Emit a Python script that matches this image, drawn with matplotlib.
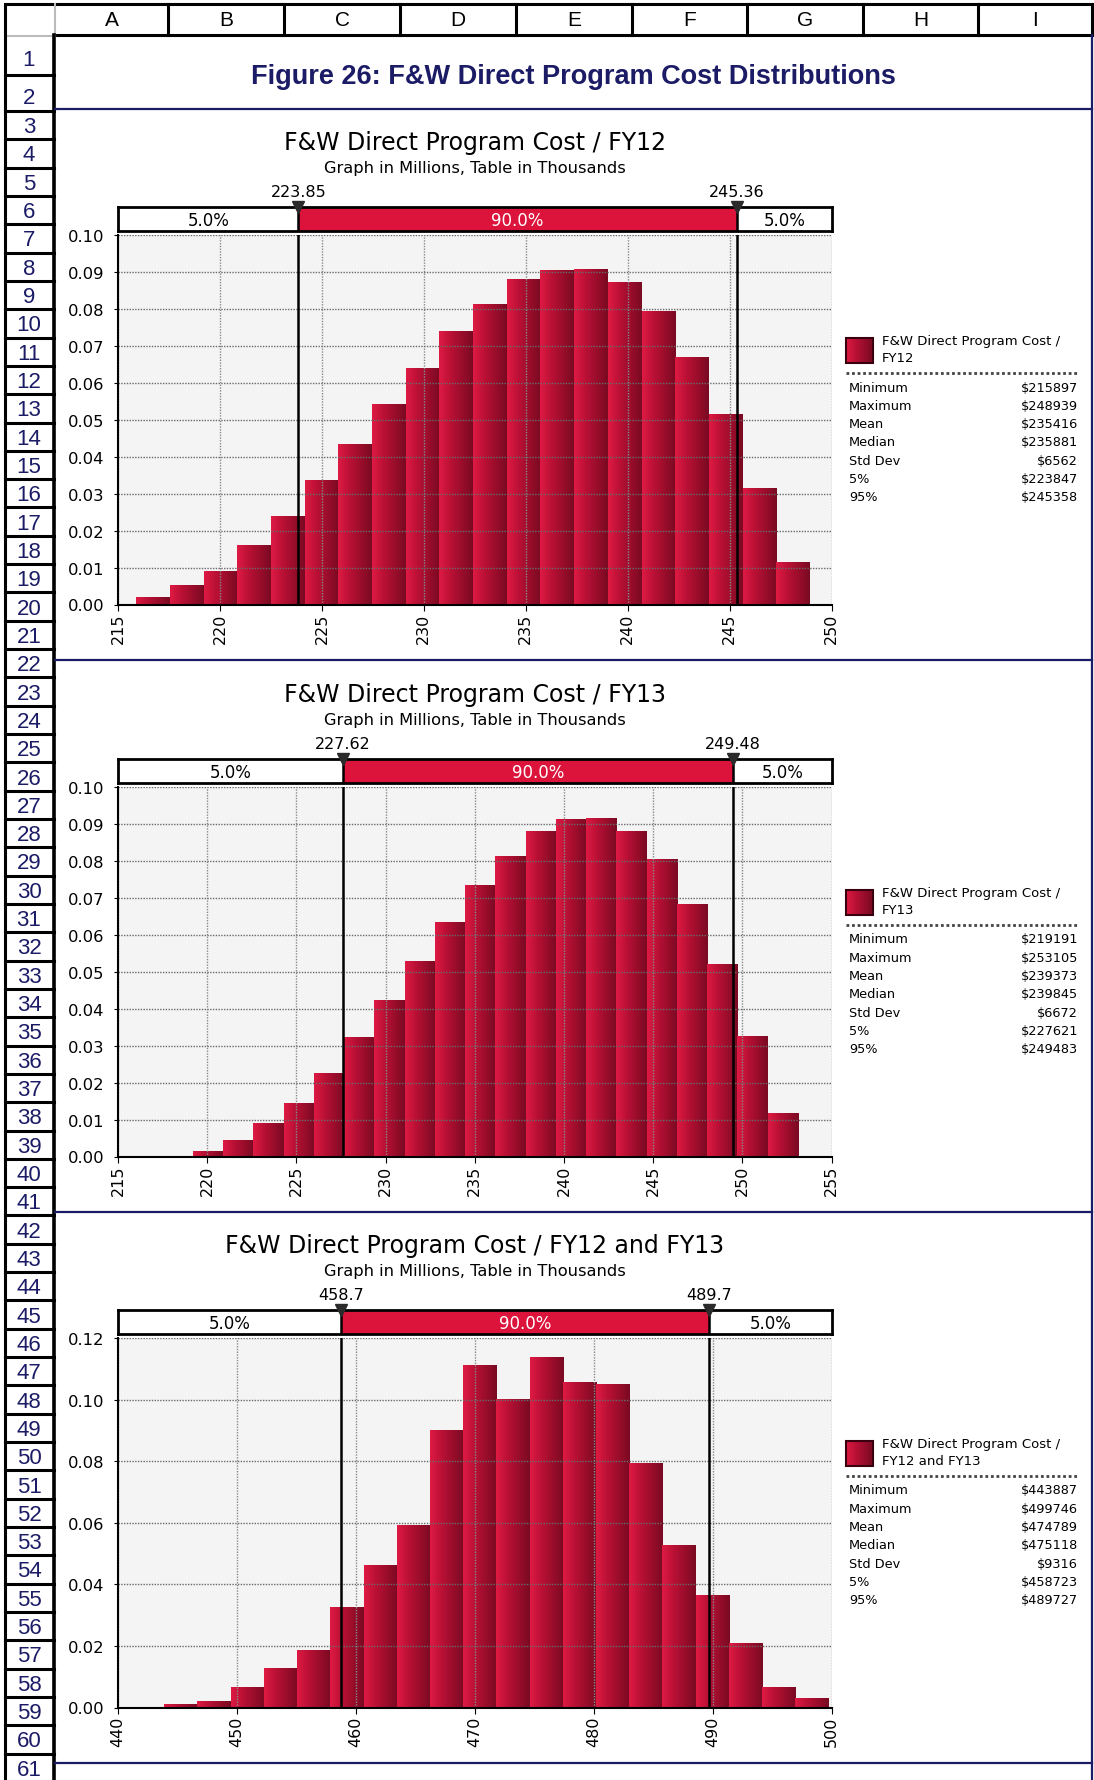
import numpy as np
import matplotlib
matplotlib.use('Agg')
import matplotlib.pyplot as plt
from matplotlib import transforms
from matplotlib.colors import LinearSegmentedColormap
from matplotlib.patches import Rectangle

# { -- data
fig_title = 'Figure 26: F&W Direct Program Cost Distributions'
subtitle = 'Graph in Millions, Table in Thousands'
chart_titles = ['F&W Direct Program Cost / FY12',
                'F&W Direct Program Cost / FY13',
                'F&W Direct Program Cost / FY12 and FY13']
legend_names = [['F&W Direct Program Cost /', 'FY12'],
                ['F&W Direct Program Cost /', 'FY13'],
                ['F&W Direct Program Cost /', 'FY12 and FY13']]

fy12_probs = [0.0020, 0.0052, 0.0091, 0.0162, 0.0240, 0.0338, 0.0435, 0.0542, 0.0640, 0.0741,
              0.0814, 0.0881, 0.0905, 0.0908, 0.0873, 0.0794, 0.0670, 0.0516, 0.0316, 0.0115]
fy13_probs = [0.0015, 0.0046, 0.0091, 0.0145, 0.0226, 0.0323, 0.0423, 0.0529, 0.0634, 0.0735,
              0.0814, 0.0880, 0.0914, 0.0917, 0.0880, 0.0806, 0.0684, 0.0521, 0.0326, 0.0118]
both_probs = [0.0012, 0.0022, 0.0068, 0.0127, 0.0188, 0.0328, 0.0462, 0.0592, 0.0900, 0.1112,
              0.1002, 0.1138, 0.1057, 0.1050, 0.0793, 0.0527, 0.0364, 0.0208, 0.0068, 0.0032]

stat_names = ['Minimum', 'Maximum', 'Mean', 'Median', 'Std Dev', '5%', '95%']
fy12_stats = [215897, 248939, 235416, 235881, 6562, 223847, 245358]
fy13_stats = [219191, 253105, 239373, 239845, 6672, 227621, 249483]
both_stats = [443887, 499746, 474789, 475118, 9316, 458723, 489727]

marker_labels = [['223.85', '245.36'], ['227.62', '249.48'], ['458.7', '489.7']]
band_labels = ['5.0%', '90.0%', '5.0%']

x_ticks = [(215, 250, 5), (215, 255, 5), (440, 500, 10)]
y_ticks = [(0.10, 0.01), (0.10, 0.01), (0.12, 0.02)]

columns = ['A', 'B', 'C', 'D', 'E', 'F', 'G', 'H', 'I']
n_rows = 61
#  -- }

W, H = 1094, 1781
navy = '#1b1b66'
band_red = '#dc143c'
bar_cmap = LinearSegmentedColormap.from_list(
    'bars', [(0, '#de1a43'), (0.35, '#ba1035'), (1, '#7a0a22')])
grad = np.linspace(0, 1, 64).reshape(1, -1)

plt.rcParams['font.family'] = ['DejaVu Sans']

fig = plt.figure(figsize=(W / 100, H / 100), dpi=100)


def px_rect(x0, y0, x1, y1):
    return [x0 / W, 1 - y1 / H, (x1 - x0) / W, (y1 - y0) / H]


# overlay in pixel coordinates for the sheet frame and text blocks
ov = fig.add_axes([0, 0, 1, 1])
ov.set_facecolor('white')

# ---- spreadsheet frame
col_x = [55, 168, 284, 400, 516, 632, 747, 863, 978, 1092]
row_y = [36, 76, 112] + [112 + 28.32 * k for k in range(1, n_rows)]
hdr_top, hdr_bot = 5, 36
ov.plot([5, 1092], [hdr_top, hdr_top], color='k', lw=2.2, solid_capstyle='butt')
ov.plot([55, 1092], [hdr_bot, hdr_bot], color='k', lw=2.2, solid_capstyle='butt')
ov.plot([5, 55], [hdr_bot + 1, hdr_bot + 1], color='#bbbbbb', lw=1.5)
for x in col_x[1:]:
    ov.plot([x, x], [hdr_top, hdr_bot], color='k', lw=2.2)
ov.plot([55, 55], [hdr_top, hdr_bot], color='#bbbbbb', lw=1.5)
for i, c in enumerate(columns):
    ov.text((col_x[i] + col_x[i + 1]) / 2, 21, c, ha='center', va='center',
            fontsize=15, family='Liberation Sans', color='k')

ov.plot([5, 5], [hdr_top, H], color='k', lw=2.2)
ov.plot([53.5, 53.5], [hdr_bot, H], color='k', lw=2.6)
for k in range(n_rows):
    y0 = row_y[k]
    y1 = row_y[k + 1] if k + 1 < len(row_y) else y0 + 28.32
    ov.plot([5, 53.5], [y1, y1], color='k', lw=2.2)
    # the two tall title rows keep their number low in the cell
    shift = 5 if k < 2 else 1.5
    ov.text(29, (y0 + y1) / 2 + shift, str(k + 1), ha='center', va='center',
            fontsize=16, family='Liberation Sans', color=navy)

ov.plot([1092, 1092], [hdr_bot, H], color=navy, lw=1.6)
for y in [110, 661, 1213, 1764]:
    ov.plot([55, 1092], [y, y], color=navy, lw=1.6)

ov.text(573, 77, fig_title, ha='center', va='center', fontsize=19.5,
        fontweight='bold', family='Liberation Sans', color=navy)

# ---- the three charts
panel_tops = [208, 760, 1311]
probs_all = [fy12_probs, fy13_probs, both_probs]
stats_all = [fy12_stats, fy13_stats, both_stats]
AX_L, AX_R = 118, 831.6

for i in range(3):
    top = panel_tops[i]
    probs = probs_all[i]
    stats = stats_all[i]
    xmin, xmax, xstep = x_ticks[i]
    ymax, ystep = y_ticks[i]
    p5, p95 = stats[5] / 1000, stats[6] / 1000

    edges = np.linspace(stats[0] / 1000, stats[1] / 1000, len(probs) + 1)
    width = edges[1] - edges[0]

    ax = fig.add_axes(px_rect(AX_L, top + 28, AX_R, top + 397.5))
    ax.set_facecolor('#f4f4f4')
    bars = ax.bar(edges[:-1], probs, width=width, align='edge',
                  color='#b5102f', linewidth=0, zorder=1)
    for b in bars:
        x0 = b.get_x()
        im = ax.imshow(grad, cmap=bar_cmap, aspect='auto', interpolation='bilinear',
                       extent=[x0, x0 + b.get_width(), 0, b.get_height()], zorder=1.5)
        im.set_clip_path(b)
    ax.axvline(p5, color='k', lw=1.8, zorder=3)
    ax.axvline(p95, color='k', lw=1.8, zorder=3)

    ax.set_xlim(xmin, xmax)
    ax.set_ylim(0, ymax)
    ax.set_aspect('auto')
    ax.set_xticks(np.arange(xmin, xmax + 0.1, xstep))
    ax.set_yticks(np.arange(0, ymax + ystep / 2, ystep))
    ax.set_yticklabels(['%.2f' % v for v in np.arange(0, ymax + ystep / 2, ystep)])
    ax.tick_params(axis='x', labelrotation=90, labelsize=11.5, length=4, pad=2)
    ax.tick_params(axis='y', labelsize=11.8, length=3, pad=7)
    ax.set_axisbelow(False)
    ax.grid(True, axis='y', color='#6a6a6a', linestyle=(0, (1, 1)), lw=1.0)
    ax.grid(True, axis='x', color='#8a8a8a', linestyle=(0, (1, 1)), lw=1.0)
    for s in ['top', 'right']:
        ax.spines[s].set_visible(False)
    for s in ['left', 'bottom']:
        ax.spines[s].set_linewidth(1.5)
        ax.spines[s].set_zorder(4)

    # percentile band above the chart
    axb = fig.add_axes(px_rect(AX_L, top, AX_R, top + 24))
    axb.set_xlim(xmin, xmax)
    axb.set_ylim(0, 1)
    axb.set_xticks([])
    axb.set_yticks([])
    for s in axb.spines.values():
        s.set_linewidth(2)
    axb.axvspan(p5, p95, color=band_red, lw=0)
    axb.axvline(p5, color='k', lw=1.8)
    axb.axvline(p95, color='k', lw=1.8)
    axb.text((xmin + p5) / 2, 0.45, band_labels[0], ha='center', va='center', fontsize=12)
    axb.text((p5 + p95) / 2, 0.45, band_labels[1], ha='center', va='center',
             fontsize=12, color='white')
    axb.text((p95 + xmax) / 2, 0.45, band_labels[2], ha='center', va='center', fontsize=12)
    blend = transforms.blended_transform_factory(axb.transData, axb.transAxes)
    for xv, lab in zip([p5, p95], marker_labels[i]):
        axb.plot([xv], [1.0], marker='v', ms=8, color='#2b2b2b', transform=blend,
                 clip_on=False, zorder=5)
        axb.text(xv, 1.66, lab, transform=blend, ha='center', va='center', fontsize=11.5)

    ov.text((AX_L + AX_R) / 2, top - 65, chart_titles[i], ha='center', va='center', fontsize=17)
    ov.text((AX_L + AX_R) / 2, top - 39, subtitle, ha='center', va='center', fontsize=11.7)

    # legend and statistics table
    ov.imshow(np.linspace(0, 1, 32).reshape(1, -1), cmap=bar_cmap, aspect='auto',
              extent=[846, 873, top + 156, top + 131], zorder=2)
    ov.add_patch(Rectangle((846, top + 131), 27, 25, fill=False, ec='#3a0010', lw=1.5, zorder=3))
    ov.text(882, top + 134, legend_names[i][0], va='center', fontsize=9.5)
    ov.text(882, top + 151, legend_names[i][1], va='center', fontsize=9.5)
    ov.plot([846, 1079], [top + 166, top + 166], color='#444444', lw=2,
            linestyle=(0, (1, 1)))
    for j, name in enumerate(stat_names):
        yy = top + 180 + j * 18.3
        ov.text(849, yy, name, va='center', fontsize=9.3)
        ov.text(1078, yy, '$%d' % stats[j], va='center', ha='right', fontsize=9.3)

ov.set_xlim(0, W)
ov.set_ylim(H, 0)
ov.axis('off')

fig.savefig('out.png', dpi=100, facecolor='white')
